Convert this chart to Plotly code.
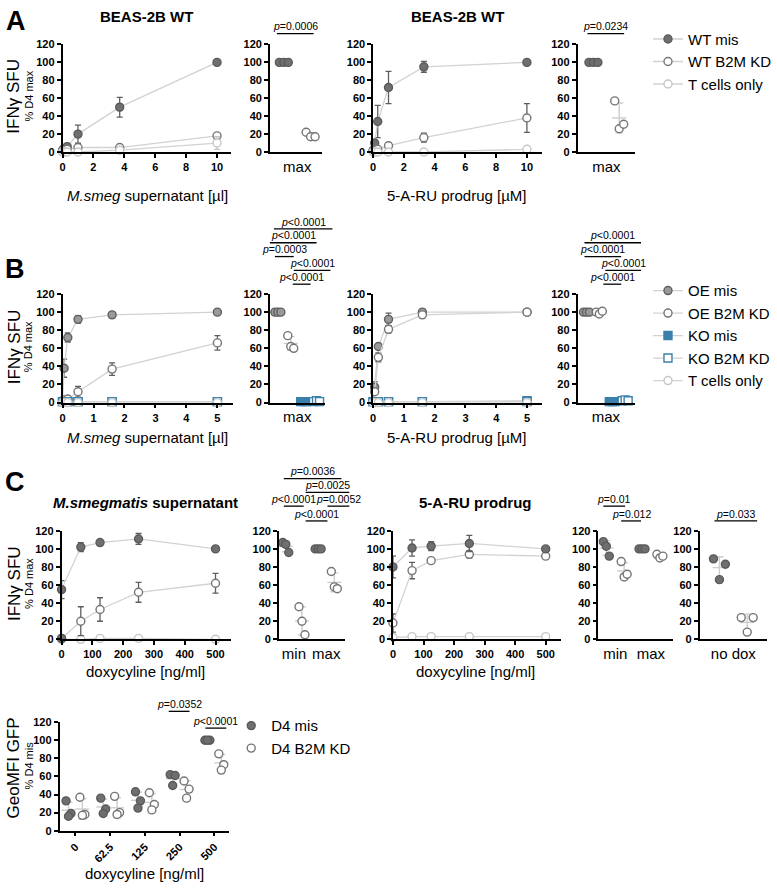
import plotly.graph_objects as go
import numpy as np

W, H = 777, 888
FONT = "Liberation Sans, Arial, Helvetica, sans-serif"

# ======================= DATA =======================
# Panel A  (BEAS-2B WT)
A1_dose = [0, 0.1, 0.3, 1, 3.7, 10]            # M.smeg supernatant [µl]
A1_mis = [2, 4, 6, 20, 50, 100]
A1_mis_sd = [0, 0, 1, 10, 11, 0]
A1_kd = [1, 2, 3, 5, 5, 18]
A1_kd_sd = [0, 0, 0, 4, 1, 3]
A1_tc = [0, 0, 0, 0, 2, 10]
A1_tc_sd = [0, 0, 0, 0, 0, 7]
A2_mis = [100, 100, 100]
A2_kd = [22, 17, 17]

A3_dose = [0, 0.1, 0.3, 1, 3.3, 10]            # 5-A-RU prodrug [µM]
A3_mis = [2, 10, 34, 72, 95, 100]
A3_mis_sd = [0, 0, 18, 18, 6, 0]
A3_kd = [1, 2, 3, 7, 16, 38]
A3_kd_sd = [0, 0, 1, 3, 5, 16]
A3_tc = [0, 0, 0, 0, 0, 3]
A4_mis = [100, 100, 100]
A4_kd = [57, 26, 31]

# Panel B
B1_dose = [0, 0.05, 0.17, 0.5, 1.6, 5]
B1_oe_mis = [1, 38, 72, 92, 97, 100]
B1_oe_mis_sd = [0, 10, 5, 4, 3, 0]
B1_oe_kd = [2, 3, 4, 12, 37, 66]
B1_oe_kd_sd = [0, 0, 1, 6, 7, 8]
B1_ko_mis = [1, 1, 1, 1, 1, 1]
B1_ko_kd = [1, 1, 1, 1, 1, 1]
B1_tc = [0, 0, 0, 0, 0, 0]
B2_oe_mis = [100, 100, 100]
B2_oe_kd = [74, 62, 60]
B2_ko_mis = [1, 1, 1]
B2_ko_kd = [1, 2, 1]

B3_dose = [0, 0.05, 0.17, 0.5, 1.6, 5]
B3_oe_mis = [1, 17, 62, 92, 100, 100]
B3_oe_mis_sd = [0, 6, 2, 7, 1, 0]
B3_oe_kd = [1, 12, 50, 81, 97, 100]
B3_oe_kd_sd = [0, 3, 5, 4, 3, 0]
B3_ko_mis = [1, 1, 1, 1, 1, 2]
B3_ko_kd = [1, 1, 1, 1, 1, 1]
B3_tc = [0, 0, 0, 0, 0, 0]
B4_oe_mis = [100, 100, 100]
B4_oe_kd = [100, 98, 101]
B4_ko_mis = [1, 1, 1]
B4_ko_kd = [2, 3, 2]

# Panel C
C1_dose_mis = [0, 0, 62.5, 125, 250, 500]      # doxycyline [ng/ml]
C1_mis = [1, 55, 102, 107, 111, 100]
C1_mis_sd = [0, 10, 5, 1, 6, 0]
C1_dose = [0, 62.5, 125, 250, 500]
C1_kd = [1, 20, 33, 52, 62]
C1_kd_sd = [0, 16, 13, 11, 11]
C1_tc = [0, 0, 1, 1, 0]
C2_min_mis = [107, 105, 96]
C2_min_kd = [36, 20, 5]
C2_max_mis = [100, 100, 100]
C2_max_kd = [75, 58, 56]

C3_dose = [0, 62.5, 125, 250, 500]
C3_mis = [80, 101, 103, 106, 100]
C3_mis_sd = [12, 9, 5, 9, 0]
C3_kd = [18, 76, 87, 94, 92]
C3_kd_sd = [10, 9, 1, 4, 0]
C3_tc = [2, 3, 3, 3, 3]
C4_min_mis = [108, 103, 92]
C4_min_kd = [86, 69, 72]
C4_max_mis = [100, 100, 100]
C4_max_kd = [94, 90, 92]
C5_mis = [89, 66, 83]
C5_kd = [24, 8, 24]

# Bottom panel (GeoMFI GFP)
D_cats = ["0", "62.5", "125", "250", "500"]
D_mis = [[33, 19, 16], [36, 24, 19], [43, 33, 25], [62, 61, 50], [100, 100, 100]]
D_kd = [[37, 18, 17], [38, 20, 18], [42, 29, 23], [55, 46, 36], [85, 73, 67]]

# ======================= STYLE =======================
LINE = "#d2d2d2"
ERR = "#5e5e5e"
MIS_F, MIS_E = "#6f6f6f", "#5a5a5a"
OE_F, OE_E = "#9a9a9a", "#5f5f5f"
OPEN_E = "#757575"
TC_E = "#c6c6c6"
BLUE = "#3b7fab"
SDC = "#cdcdcd"
MS = 8

# subplot layout: pixel box (x-left, x-right), (y at 120, y at 0)
SP = {
    "A1": dict(px=(60, 230), py=(39, 148), xr=(0, 10.92), ticks=[0, 2, 4, 6, 8, 10]),
    "A2": dict(px=(269, 321), py=(39, 148), c0=283, step=27, lab=([0.5], ["max"])),
    "A3": dict(px=(373, 543), py=(39, 148), xr=(0, 10.97), ticks=[0, 2, 4, 6, 8, 10]),
    "A4": dict(px=(579, 637), py=(39, 148), c0=595, step=26, lab=([0.5], ["max"])),
    "B1": dict(px=(60, 232), py=(292, 402), xr=(0, 5.51), ticks=[0, 1, 2, 3, 4, 5]),
    "B2": dict(px=(269, 325), py=(292, 402), c0=277, step=13, lab=([1.5], ["max"])),
    "B3": dict(px=(373, 543), py=(292, 402), xr=(0, 5.48), ticks=[0, 1, 2, 3, 4, 5]),
    "B4": dict(px=(579, 637), py=(292, 402), c0=588, step=13, lab=([1.5], ["max"])),
    "C1": dict(px=(59, 230), py=(532, 642), xr=(0, 551), ticks=[0, 100, 200, 300, 400, 500]),
    "C2": dict(px=(278, 345), py=(532, 642), c0=285, step=16.3, lab=([0.5, 2.5], ["min", "max"])),
    "C3": dict(px=(393, 562), py=(532, 642), xr=(0, 549), ticks=[0, 100, 200, 300, 400, 500]),
    "C4": dict(px=(600, 675), py=(532, 642), c0=608, step=18, lab=([0.5, 2.5], ["min", "max"])),
    "C5": dict(px=(702, 770), py=(532, 642), c0=722, step=28, lab=([0.5], ["no dox"])),
    "D": dict(px=(57, 228), py=(726, 836), c0=73, step=35, dcat=True),
}

fig = go.Figure()
AX = {}
axes_layout = {}
for i, (nm, s) in enumerate(SP.items(), start=1):
    sfx = "" if i == 1 else str(i)
    AX[nm] = ("x" + sfx, "y" + sfx)
    x0, x1 = s["px"]
    yt, yb = s["py"]
    common = dict(showline=True, linecolor="black", linewidth=1.5, showgrid=False,
                  zeroline=False, ticklen=4, tickwidth=1.5, tickcolor="black")
    if "xr" in s:
        xr = list(s["xr"])
        xa = dict(range=xr, tickvals=s["ticks"], ticks="outside",
                  tickfont=dict(family=FONT, size=11, color="black", weight="bold"), **common)
    else:
        xr = [(x0 - s["c0"]) / s["step"], (x1 - s["c0"]) / s["step"]]
        if s.get("dcat"):
            xa = dict(range=xr, tickvals=list(range(len(D_cats))), ticktext=D_cats, ticks="outside",
                      tickangle=-45,
                      tickfont=dict(family=FONT, size=11, color="black", weight="bold"), **common)
        else:
            xa = dict(range=xr, tickvals=s["lab"][0], ticktext=s["lab"][1], ticks="",
                      tickfont=dict(family=FONT, size=15, color="black"), **common)
    s["xrange"] = xr
    xa.update(domain=[x0 / W, x1 / W], anchor="y" + sfx)
    ya = dict(domain=[1 - yb / H, 1 - yt / H], range=[0, 120], anchor="x" + sfx,
              tickvals=[0, 20, 40, 60, 80, 100, 120], ticks="outside",
              tickfont=dict(family=FONT, size=11, color="black", weight="bold"), **common)
    axes_layout["xaxis" + sfx] = xa
    axes_layout["yaxis" + sfx] = ya


def series(sp, x, y, sd, name, sym, fill, edge, legend=None, errc=ERR):
    xa, ya = AX[sp]
    fig.add_trace(go.Scatter(
        x=x, y=y, xaxis=xa, yaxis=ya, mode="lines+markers", cliponaxis=False,
        line=dict(color=LINE, width=1.3),
        marker=dict(symbol=sym, size=MS, color=fill, line=dict(color=edge, width=1.4)),
        error_y=dict(type="data", array=sd if sd is not None else [0] * len(y),
                     visible=sd is not None, color=errc, thickness=1.3, width=3),
        name=name, showlegend=legend is not None, legend=legend or "legend"))


def dots(sp, pos, vals, sym, fill, edge, jit=(-4.5, 0, 4.5), name=None, legend=None):
    xa, ya = AX[sp]
    step = SP[sp]["step"]
    m, sd = float(np.mean(vals)), float(np.std(vals, ddof=1))
    fig.add_trace(go.Scatter(
        x=[pos], y=[m], xaxis=xa, yaxis=ya, mode="markers", cliponaxis=False, showlegend=False,
        marker=dict(symbol="line-ew", size=10, line=dict(color=SDC, width=1.4)),
        error_y=dict(type="data", array=[sd], color=SDC, thickness=1.4, width=4)))
    xs = [pos + j / step for j in jit[:len(vals)]]
    fig.add_trace(go.Scatter(
        x=xs, y=vals, xaxis=xa, yaxis=ya, mode="markers", cliponaxis=False,
        marker=dict(symbol=sym, size=MS, color=fill, line=dict(color=edge, width=1.4)),
        name=name, showlegend=legend is not None, legend=legend or "legend"))


# ---------- Panel A ----------
series("A1", A1_dose, A1_mis, A1_mis_sd, "WT mis", "circle", MIS_F, MIS_E, "legend")
series("A1", A1_dose, A1_kd, A1_kd_sd, "WT B2M KD", "circle", "white", OPEN_E, "legend")
series("A1", A1_dose, A1_tc, A1_tc_sd, "T cells only", "circle", "white", TC_E, "legend", errc=TC_E)
series("A3", A3_dose, A3_mis, A3_mis_sd, "WT mis", "circle", MIS_F, MIS_E)
series("A3", A3_dose, A3_kd, A3_kd_sd, "WT B2M KD", "circle", "white", OPEN_E)
series("A3", A3_dose, A3_tc, None, "T cells only", "circle", "white", TC_E)
dots("A2", 0, A2_mis, "circle", MIS_F, MIS_E)
dots("A2", 1, A2_kd, "circle", "white", OPEN_E)
dots("A4", 0, A4_mis, "circle", MIS_F, MIS_E)
dots("A4", 1, A4_kd, "circle", "white", OPEN_E)

# ---------- Panel B ----------
series("B1", B1_dose, B1_oe_mis, B1_oe_mis_sd, "OE mis", "circle", OE_F, OE_E, "legend2")
series("B1", B1_dose, B1_oe_kd, B1_oe_kd_sd, "OE B2M KD", "circle", "white", OPEN_E, "legend2")
series("B1", B1_dose, B1_ko_mis, None, "KO mis", "square", BLUE, BLUE, "legend2")
series("B1", B1_dose, B1_ko_kd, None, "KO B2M KD", "square", "white", BLUE, "legend2")
series("B1", B1_dose, B1_tc, None, "T cells only", "circle", "white", TC_E, "legend2")
series("B3", B3_dose, B3_oe_mis, B3_oe_mis_sd, "OE mis", "circle", OE_F, OE_E)
series("B3", B3_dose, B3_oe_kd, B3_oe_kd_sd, "OE B2M KD", "circle", "white", OPEN_E)
series("B3", B3_dose, B3_ko_mis, None, "KO mis", "square", BLUE, BLUE)
series("B3", B3_dose, B3_ko_kd, None, "KO B2M KD", "square", "white", BLUE)
series("B3", B3_dose, B3_tc, None, "T cells only", "circle", "white", TC_E)
for sp, grp in (("B2", (B2_oe_mis, B2_oe_kd, B2_ko_mis, B2_ko_kd)),
                ("B4", (B4_oe_mis, B4_oe_kd, B4_ko_mis, B4_ko_kd))):
    j = (-3, 0, 3)
    dots(sp, 0, grp[0], "circle", OE_F, OE_E, jit=j)
    dots(sp, 1, grp[1], "circle", "white", OPEN_E, jit=j)
    dots(sp, 2, grp[2], "square", BLUE, BLUE, jit=j)
    dots(sp, 3, grp[3], "square", "white", BLUE, jit=j)

# ---------- Panel C ----------
series("C1", C1_dose, C1_tc, None, "T cells only", "circle", "white", TC_E)
series("C1", C1_dose, C1_kd, C1_kd_sd, "B2M KD", "circle", "white", OPEN_E)
series("C1", C1_dose_mis, C1_mis, C1_mis_sd, "mis", "circle", MIS_F, MIS_E)
series("C3", C3_dose, C3_tc, None, "T cells only", "circle", "white", TC_E)
series("C3", C3_dose, C3_kd, C3_kd_sd, "B2M KD", "circle", "white", OPEN_E)
series("C3", C3_dose, C3_mis, C3_mis_sd, "mis", "circle", MIS_F, MIS_E)
j = (-3, 0, 3)
dots("C2", 0, C2_min_mis, "circle", MIS_F, MIS_E, jit=j)
dots("C2", 1, C2_min_kd, "circle", "white", OPEN_E, jit=j)
dots("C2", 2, C2_max_mis, "circle", MIS_F, MIS_E, jit=j)
dots("C2", 3, C2_max_kd, "circle", "white", OPEN_E, jit=j)
dots("C4", 0, C4_min_mis, "circle", MIS_F, MIS_E, jit=j)
dots("C4", 1, C4_min_kd, "circle", "white", OPEN_E, jit=j)
dots("C4", 2, C4_max_mis, "circle", MIS_F, MIS_E, jit=j)
dots("C4", 3, C4_max_kd, "circle", "white", OPEN_E, jit=j)
dots("C5", 0, C5_mis, "circle", MIS_F, MIS_E, jit=(-6, 0, 6))
dots("C5", 1, C5_kd, "circle", "white", OPEN_E, jit=(-6, 0, 6))

# ---------- Bottom panel ----------
for k in range(len(D_cats)):
    first = k == 0
    dots("D", k - 0.2, D_mis[k], "circle", MIS_F, MIS_E, jit=(-2.5, 2.5, 0),
         name="D4 mis", legend="legend3" if first else None)
for k in range(len(D_cats)):
    first = k == 0
    dots("D", k + 0.2, D_kd[k], "circle", "white", OPEN_E, jit=(-2.5, 2.5, 0),
         name="D4 B2M KD", legend="legend3" if first else None)

# ======================= ANNOTATIONS =======================
ann = []
shapes = []


def text(x, y, t, size=15, bold=False, italic=False, angle=0, xanchor="center", color="black"):
    if bold:
        t = "<b>" + t + "</b>"
    if italic:
        t = "<i>" + t + "</i>"
    ann.append(dict(x=x / W, y=1 - y / H, xref="paper", yref="paper", text=t, showarrow=False,
                    xanchor=xanchor, yanchor="middle", textangle=angle,
                    font=dict(family=FONT, size=size, color=color)))


# panel letters
text(13, 15, "A", size=27, bold=True)
text(12, 267, "B", size=27, bold=True)
text(12, 483, "C", size=27, bold=True)
# titles
text(145, 11, "BEAS-2B WT", size=15, bold=True)
text(458, 11, "BEAS-2B WT", size=15, bold=True)
text(144, 503, "<i>M.smegmatis</i> supernatant", size=15, bold=True)
text(476, 503, "5-A-RU prodrug", size=15, bold=True)
# x titles
for yy in (192, 437):
    text(146, yy, "<i>M.smeg</i> supernatant [µl]", size=15)
    text(458, yy, "5-A-RU prodrug [µM]", size=15)
text(144, 675, "doxycyline [ng/ml]", size=15)
text(476, 675, "doxycyline [ng/ml]", size=15)
text(143, 879, "doxycyline [ng/ml]", size=15)
# y titles
for yc in (91, 345, 585):
    text(11, yc, "IFNγ SFU", size=17, angle=-90)
    text(26, yc, "% D4 max", size=11, angle=-90)
text(11, 772, "GeoMFI GFP", size=17, angle=-90)
text(26, 770, "% D4 mis", size=11, angle=-90)

# significance brackets: (x-left px, x-right px, line y px, label)
BRACKETS = [
    (276, 313, 28, "=0.0006"),
    (589, 626, 28, "=0.0234"),
    (273, 332, 226, "&lt;0.0001"),
    (269, 316, 240, "&lt;0.0001"),
    (274, 293, 254, "=0.0003"),
    (293, 330, 268, "&lt;0.0001"),
    (292, 310, 282, "&lt;0.0001"),
    (586, 643, 240, "&lt;0.0001"),
    (586, 623, 254, "&lt;0.0001"),
    (607, 643, 268, "&lt;0.0001"),
    (605, 623, 282, "&lt;0.0001"),
    (283, 341, 479, "=0.0036"),
    (305, 349, 493, "=0.0025"),
    (283, 303, 507, "&lt;0.0001"),
    (327, 349, 507, "=0.0052"),
    (305, 327, 522, "&lt;0.0001"),
    (605, 627, 507, "=0.01"),
    (623, 643, 522, "=0.012"),
    (717, 760, 522, "=0.033"),
    (167, 188, 715, "=0.0352"),
    (204, 225, 732, "&lt;0.0001"),
]
for xl, xr_, yl, lab in BRACKETS:
    shapes.append(dict(type="line", xref="paper", yref="paper", x0=xl / W, x1=xr_ / W,
                       y0=1 - yl / H, y1=1 - yl / H, line=dict(color="black", width=1.3)))
    text((xl + xr_) / 2, yl - 7.5, "<i>p</i>" + lab, size=10.5)

LEG = dict(xanchor="left", yanchor="top", bgcolor="rgba(0,0,0,0)", itemwidth=30,
           font=dict(family=FONT, size=15, color="black"), tracegroupgap=0, itemclick=False)

fig.update_layout(
    width=W, height=H, margin=dict(l=0, r=0, t=0, b=0),
    paper_bgcolor="white", plot_bgcolor="white",
    font=dict(family=FONT, color="black"),
    annotations=ann, shapes=shapes,
    legend=dict(x=650 / W, y=1 - 17 / H, **LEG),
    legend2=dict(x=650 / W, y=1 - 272 / H, **LEG),
    legend3=dict(x=230 / W, y=1 - 713 / H, **LEG),
    **axes_layout,
)
fig.write_html("out.html")
